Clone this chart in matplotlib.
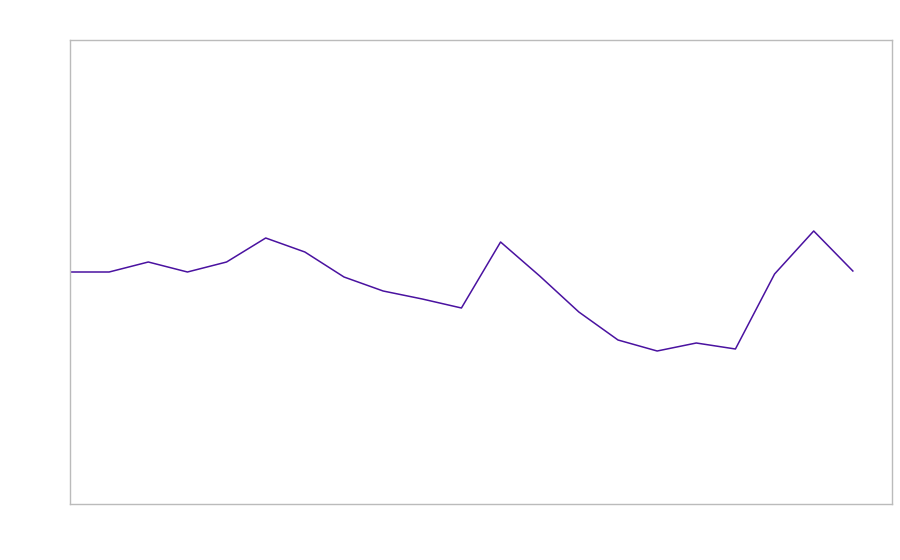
import numpy as np
import matplotlib.pyplot as plt

x = np.arange(21)
vals = [0, 0, 10, 0, 10, 34, 20, -5, -19, -27, -36, 30, -4, -40, -68, -79, -71, -77, -2, 41, 1]

fig = plt.figure(figsize=(9, 5.6), dpi=100)
ax = fig.add_axes([70/900, 1-504/560, 822/900, 464/560])
ax.plot(x, vals, color='#4a12a0', lw=1.1)
ax.set_xlim(0, 21)
ax.set_ylim(-232, 232)
ax.set_xticks([])
ax.set_yticks([])
for s in ax.spines.values():
    s.set_color('#bbbbbb')
    s.set_linewidth(1)

fig.savefig('out.png')
